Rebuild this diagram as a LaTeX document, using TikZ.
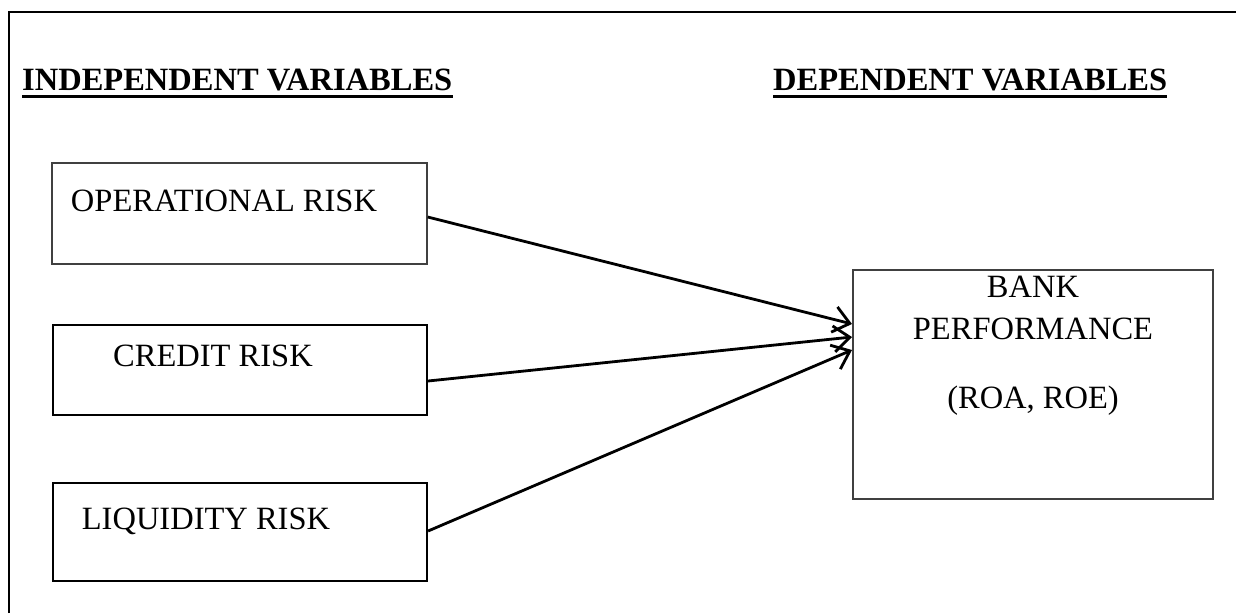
\documentclass[tikz,border=0pt]{standalone}
\usepackage{fontspec}
\setmainfont{Liberation Serif}
\usetikzlibrary{arrows.meta}
\tikzset{
  frameline/.style={line width=2.4pt, black},
  hdr/.style={font=\fontsize{32.5}{38}\selectfont\bfseries, inner sep=0pt, anchor=base west},
  uline/.style={line width=3.2pt, black},
  boxgrey/.style={draw=black!75, line width=1.4pt, inner sep=0pt},
  boxblack/.style={draw=black, line width=2.2pt, inner sep=0pt},
  lbl/.style={font=\fontsize{32.5}{38}\selectfont, inner sep=0pt, anchor=base, align=center},
  conn/.style={line width=2.8pt, -{Straight Barb[length=16pt, width=26pt, line width=2.8pt]}}
}
\begin{document}
\begin{tikzpicture}[x=1pt, y=-1pt]
\useasboundingbox (0,0) rectangle (1236,613);
% outer frame (cropped)
\coordinate (fb) at (9,613);
\coordinate (ft) at (9,12);
\coordinate (fr) at (1236,12);
\draw[frameline] (fb) -- (ft) -- (fr);
% headers
\node[hdr] (hin) at (22,90) {INDEPENDENT VARIABLES};
\node[hdr] (hdep) at (773,90) {DEPENDENT VARIABLES};
\draw[uline] ([yshift=-6.5pt]hin.base west) -- ([yshift=-6.5pt]hin.base east);
\draw[uline] ([yshift=-6.5pt]hdep.base west) -- ([yshift=-6.5pt]hdep.base east);
% boxes
\node[boxgrey, minimum width=375pt, minimum height=101pt] (op) at (239.5,213.5) {};
\node[boxblack, minimum width=374pt, minimum height=90pt] (cr) at (240,370) {};
\node[boxblack, minimum width=374pt, minimum height=98pt] (lq) at (240,532) {};
\node[boxgrey, minimum width=360pt, minimum height=229pt] (bk) at (1033,384.5) {};
% labels
\node[lbl] (opt) at (224,211) {OPERATIONAL RISK};
\node[lbl] (crt) at (213,366) {CREDIT RISK};
\node[lbl] (lqt) at (206,529) {LIQUIDITY RISK};
\node[lbl] (bkt1) at (1033,297) {BANK};
\node[lbl] (bkt2) at (1033,339) {PERFORMANCE};
\node[lbl] (bkt3) at (1033,408) {(ROA, ROE)};
% connectors
\coordinate (bk1) at (852,324);
\coordinate (bk2) at (852,337);
\coordinate (bk3) at (852,350);
\draw[conn] (op.east |- 0,217) -- (bk1);
\draw[conn] (cr.east |- 0,381) -- (bk2);
\draw[conn] (lq.east |- 0,531) -- (bk3);
\end{tikzpicture}
\end{document}
